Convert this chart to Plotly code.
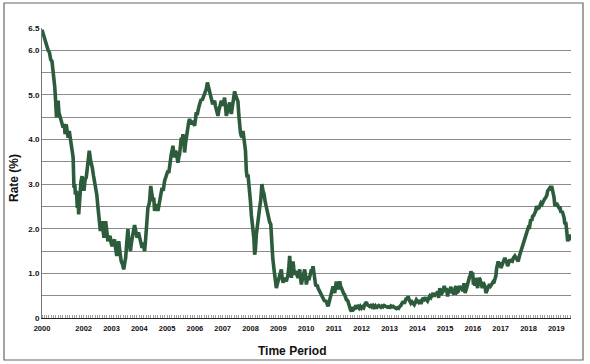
import plotly.graph_objects as go

# Decimal-year positions and rate values (%)
years = [
    2000.50, 2000.55, 2000.60, 2000.66, 2000.72, 2000.77, 2000.81, 2000.86, 2000.90, 2000.94,
    2000.96, 2000.99, 2001.02, 2001.05, 2001.08, 2001.11, 2001.15, 2001.20, 2001.26, 2001.30,
    2001.33, 2001.37, 2001.40, 2001.44, 2001.48, 2001.52, 2001.56, 2001.60, 2001.62, 2001.65,
    2001.68, 2001.70, 2001.74, 2001.77, 2001.80, 2001.82, 2001.85, 2001.87, 2001.90, 2001.94,
    2001.98, 2002.01, 2002.05, 2002.09, 2002.12, 2002.15, 2002.20, 2002.25, 2002.28, 2002.31,
    2002.35, 2002.39, 2002.43, 2002.47, 2002.51, 2002.54, 2002.57, 2002.60, 2002.63, 2002.66,
    2002.70, 2002.73, 2002.76, 2002.79, 2002.83, 2002.87, 2002.91, 2002.95, 2002.98, 2003.02,
    2003.06, 2003.11, 2003.15, 2003.19, 2003.22, 2003.26, 2003.30, 2003.35, 2003.40, 2003.44,
    2003.48, 2003.51, 2003.55, 2003.59, 2003.62, 2003.65, 2003.68, 2003.72, 2003.75, 2003.79,
    2003.83, 2003.88, 2003.92, 2003.97, 2004.01, 2004.05, 2004.10, 2004.13, 2004.16, 2004.19,
    2004.22, 2004.25, 2004.28, 2004.31, 2004.35, 2004.37, 2004.41, 2004.45, 2004.49, 2004.52,
    2004.55, 2004.58, 2004.61, 2004.64, 2004.67, 2004.70, 2004.73, 2004.77, 2004.82, 2004.86,
    2004.91, 2004.96, 2005.03, 2005.06, 2005.09, 2005.12, 2005.15, 2005.18, 2005.21, 2005.24,
    2005.27, 2005.30, 2005.33, 2005.36, 2005.39, 2005.42, 2005.45, 2005.48, 2005.51, 2005.54,
    2005.57, 2005.60, 2005.63, 2005.66, 2005.69, 2005.72, 2005.75, 2005.78, 2005.81, 2005.84,
    2005.87, 2005.90, 2005.93, 2005.96, 2005.99, 2006.02, 2006.05, 2006.08, 2006.11, 2006.14,
    2006.17, 2006.20, 2006.23, 2006.26, 2006.29, 2006.32, 2006.35, 2006.38, 2006.41, 2006.45,
    2006.48, 2006.51, 2006.54, 2006.57, 2006.60, 2006.64, 2006.67, 2006.71, 2006.74, 2006.77,
    2006.80, 2006.83, 2006.86, 2006.89, 2006.92, 2006.95, 2006.98, 2007.01, 2007.04, 2007.07,
    2007.10, 2007.13, 2007.16, 2007.19, 2007.22, 2007.25, 2007.28, 2007.31, 2007.34, 2007.37,
    2007.40, 2007.43, 2007.46, 2007.50, 2007.55, 2007.58, 2007.61, 2007.64, 2007.67, 2007.70,
    2007.73, 2007.76, 2007.79, 2007.82, 2007.85, 2007.88, 2007.91, 2007.94, 2007.97, 2008.00,
    2008.03, 2008.06, 2008.09, 2008.12, 2008.15, 2008.18, 2008.21, 2008.24, 2008.27, 2008.30,
    2008.33, 2008.37, 2008.41, 2008.45, 2008.49, 2008.53, 2008.57, 2008.61, 2008.65, 2008.69,
    2008.73, 2008.75, 2008.77, 2008.80, 2008.84, 2008.88, 2008.93, 2008.96, 2008.99, 2009.02,
    2009.05, 2009.08, 2009.11, 2009.14, 2009.17, 2009.20, 2009.23, 2009.26, 2009.29, 2009.32,
    2009.35, 2009.38, 2009.41, 2009.44, 2009.47, 2009.50, 2009.53, 2009.56, 2009.59, 2009.62,
    2009.65, 2009.68, 2009.71, 2009.74, 2009.77, 2009.80, 2009.83, 2009.86, 2009.89, 2009.92,
    2009.95, 2009.98, 2010.01, 2010.04, 2010.07, 2010.10, 2010.13, 2010.16, 2010.19, 2010.22,
    2010.25, 2010.28, 2010.31, 2010.34, 2010.37, 2010.40, 2010.43, 2010.46, 2010.49, 2010.52,
    2010.55, 2010.58, 2010.61, 2010.64, 2010.67, 2010.70, 2010.73, 2010.76, 2010.79, 2010.82,
    2010.85, 2010.88, 2010.91, 2010.94, 2010.97, 2011.00, 2011.03, 2011.06, 2011.09, 2011.12,
    2011.15, 2011.18, 2011.21, 2011.24, 2011.27, 2011.30, 2011.33, 2011.36, 2011.39, 2011.42,
    2011.45, 2011.48, 2011.51, 2011.54, 2011.57, 2011.60, 2011.63, 2011.66, 2011.69, 2011.72,
    2011.75, 2011.79, 2011.83, 2011.87, 2011.91, 2011.95, 2011.99, 2012.03, 2012.07, 2012.11,
    2012.14, 2012.17, 2012.20, 2012.24, 2012.29, 2012.33, 2012.37, 2012.41, 2012.45, 2012.49,
    2012.53, 2012.57, 2012.61, 2012.65, 2012.69, 2012.73, 2012.77, 2012.81, 2012.85, 2012.89,
    2012.93, 2012.97, 2013.01, 2013.05, 2013.09, 2013.13, 2013.17, 2013.21, 2013.25, 2013.29,
    2013.33, 2013.37, 2013.41, 2013.45, 2013.49, 2013.53, 2013.57, 2013.61, 2013.64, 2013.67,
    2013.70, 2013.73, 2013.77, 2013.81, 2013.85, 2013.89, 2013.93, 2013.97, 2014.01, 2014.05,
    2014.09, 2014.13, 2014.17, 2014.21, 2014.25, 2014.29, 2014.33, 2014.37, 2014.41, 2014.45,
    2014.49, 2014.53, 2014.57, 2014.61, 2014.65, 2014.69, 2014.73, 2014.77, 2014.81, 2014.85,
    2014.89, 2014.93, 2014.97, 2015.01, 2015.05, 2015.09, 2015.13, 2015.17, 2015.21, 2015.25,
    2015.28, 2015.32, 2015.36, 2015.40, 2015.44, 2015.48, 2015.52, 2015.56, 2015.60, 2015.64,
    2015.68, 2015.72, 2015.76, 2015.80, 2015.84, 2015.88, 2015.91, 2015.93, 2015.96, 2015.99,
    2016.02, 2016.05, 2016.07, 2016.10, 2016.13, 2016.17, 2016.20, 2016.23, 2016.26, 2016.30,
    2016.34, 2016.37, 2016.41, 2016.44, 2016.47, 2016.50, 2016.53, 2016.56, 2016.60, 2016.64,
    2016.68, 2016.72, 2016.75, 2016.77, 2016.80, 2016.83, 2016.85, 2016.88, 2016.91, 2016.94,
    2016.97, 2017.01, 2017.05, 2017.09, 2017.12, 2017.15, 2017.18, 2017.22, 2017.25, 2017.29,
    2017.33, 2017.37, 2017.42, 2017.46, 2017.51, 2017.55, 2017.59, 2017.63, 2017.68, 2017.73,
    2017.77, 2017.81, 2017.86, 2017.90, 2017.94, 2017.99, 2018.03, 2018.08, 2018.12, 2018.15,
    2018.19, 2018.23, 2018.26, 2018.29, 2018.33, 2018.38, 2018.42, 2018.45, 2018.49, 2018.53,
    2018.57, 2018.62, 2018.66, 2018.69, 2018.73, 2018.77, 2018.80, 2018.83, 2018.86, 2018.89,
    2018.92, 2018.95, 2018.98, 2019.01, 2019.05, 2019.10, 2019.13, 2019.17, 2019.21, 2019.25,
    2019.28, 2019.31, 2019.34, 2019.37, 2019.39, 2019.41, 2019.44, 2019.46, 2019.50, 2019.53,
]

rates = [
    6.46, 6.35, 6.22, 6.12, 6.00, 5.95, 5.80, 5.75, 5.54, 5.30,
    5.17, 4.87, 4.50, 4.65, 4.87, 4.60, 4.52, 4.42, 4.27, 4.35,
    4.12, 4.34, 4.20, 4.04, 4.19, 4.00, 3.90, 3.75, 3.60, 2.92,
    3.00, 2.77, 2.85, 2.47, 2.55, 2.32, 2.70, 2.92, 3.05, 3.18,
    3.00, 2.85, 3.10, 3.15, 3.30, 3.52, 3.75, 3.52, 3.45, 3.37,
    3.20, 3.07, 2.95, 2.77, 2.50, 2.25, 2.10, 1.95, 2.05, 2.17,
    1.95, 1.80, 2.00, 2.17, 1.95, 1.72, 1.80, 1.84, 1.70, 1.61,
    1.70, 1.76, 1.55, 1.39, 1.55, 1.72, 1.50, 1.27, 1.20, 1.09,
    1.25, 1.35, 1.70, 1.99, 1.75, 1.65, 1.50, 1.70, 1.87, 1.95,
    2.08, 1.85, 1.80, 1.92, 1.80, 1.65, 1.57, 1.69, 1.60, 1.50,
    1.70, 2.02, 2.25, 2.47, 2.55, 2.62, 2.96, 2.80, 2.62, 2.70,
    2.40, 2.55, 2.47, 2.55, 2.40, 2.50, 2.58, 2.75, 2.92, 2.85,
    3.07, 3.15, 3.30, 3.25, 3.45, 3.55, 3.67, 3.75, 3.86, 3.70,
    3.60, 3.75, 3.71, 3.60, 3.48, 3.60, 3.67, 3.85, 4.04, 3.95,
    4.12, 4.00, 3.71, 3.90, 4.04, 4.20, 4.34, 4.40, 4.46, 4.38,
    4.34, 4.42, 4.38, 4.35, 4.31, 4.45, 4.61, 4.55, 4.68, 4.72,
    4.79, 4.85, 4.91, 4.88, 4.94, 4.98, 5.02, 5.08, 5.13, 5.28,
    5.20, 5.09, 5.00, 4.91, 4.85, 4.79, 4.83, 4.87, 4.75, 4.64,
    4.60, 4.53, 4.65, 4.76, 4.80, 4.87, 4.80, 4.76, 4.85, 4.94,
    4.75, 4.53, 4.60, 4.72, 4.78, 4.83, 4.70, 4.57, 4.70, 4.87,
    4.95, 5.08, 5.00, 4.90, 4.85, 4.55, 4.27, 4.15, 4.08, 4.05,
    4.19, 4.05, 3.97, 3.75, 3.30, 3.15, 3.22, 3.05, 2.92, 2.60,
    2.32, 2.15, 2.02, 1.80, 1.42, 1.55, 1.87, 2.05, 2.25, 2.35,
    2.47, 2.65, 3.00, 2.85, 2.77, 2.60, 2.47, 2.35, 2.25, 2.15,
    2.10, 1.80, 1.57, 1.35, 1.12, 0.90, 0.67, 0.75, 0.82, 0.90,
    0.97, 1.02, 1.09, 0.90, 0.79, 0.85, 0.90, 0.86, 0.82, 0.90,
    0.97, 1.15, 1.39, 1.10, 0.90, 1.05, 1.27, 1.10, 0.97, 1.02,
    1.05, 0.95, 0.90, 1.00, 1.09, 0.90, 0.75, 0.85, 0.97, 1.00,
    1.09, 0.95, 0.75, 0.85, 0.94, 0.85, 0.90, 1.00, 1.09, 1.05,
    1.16, 1.00, 0.82, 0.75, 0.71, 0.75, 0.67, 0.63, 0.60, 0.56,
    0.52, 0.50, 0.45, 0.42, 0.37, 0.40, 0.34, 0.30, 0.26, 0.33,
    0.41, 0.50, 0.60, 0.65, 0.71, 0.62, 0.56, 0.70, 0.82, 0.70,
    0.64, 0.75, 0.82, 0.72, 0.67, 0.60, 0.56, 0.54, 0.52, 0.45,
    0.41, 0.40, 0.37, 0.30, 0.21, 0.18, 0.15, 0.20, 0.24, 0.20,
    0.22, 0.28, 0.24, 0.26, 0.22, 0.26, 0.22, 0.25, 0.23, 0.30,
    0.33, 0.36, 0.30, 0.28, 0.26, 0.28, 0.25, 0.28, 0.24, 0.27,
    0.22, 0.26, 0.28, 0.26, 0.24, 0.27, 0.25, 0.28, 0.26, 0.26,
    0.24, 0.25, 0.24, 0.27, 0.25, 0.26, 0.24, 0.23, 0.21, 0.23,
    0.22, 0.26, 0.28, 0.33, 0.37, 0.32, 0.38, 0.45, 0.42, 0.49,
    0.42, 0.37, 0.33, 0.36, 0.34, 0.30, 0.35, 0.41, 0.38, 0.35,
    0.37, 0.32, 0.38, 0.45, 0.42, 0.46, 0.41, 0.38, 0.44, 0.49,
    0.46, 0.53, 0.56, 0.48, 0.55, 0.52, 0.60, 0.45, 0.67, 0.52,
    0.55, 0.60, 0.72, 0.60, 0.67, 0.48, 0.63, 0.60, 0.70, 0.55,
    0.64, 0.52, 0.67, 0.71, 0.58, 0.60, 0.72, 0.65, 0.71, 0.60,
    0.78, 0.56, 0.64, 0.75, 0.86, 0.92, 0.96, 1.05, 0.95, 1.02,
    0.75, 0.85, 0.72, 0.90, 0.82, 0.67, 0.80, 0.90, 0.86, 0.72,
    0.67, 0.80, 0.75, 0.70, 0.56, 0.62, 0.68, 0.71, 0.76, 0.72,
    0.75, 0.80, 0.78, 0.82, 0.85, 0.95, 1.09, 1.15, 1.27, 1.20,
    1.25, 1.12, 1.20, 1.24, 1.30, 1.35, 1.30, 1.25, 1.16, 1.25,
    1.31, 1.28, 1.27, 1.35, 1.39, 1.35, 1.32, 1.27, 1.40, 1.50,
    1.57, 1.65, 1.73, 1.80, 1.88, 2.02, 2.00, 2.21, 2.18, 2.28,
    2.30, 2.36, 2.40, 2.51, 2.45, 2.47, 2.55, 2.58, 2.55, 2.62,
    2.66, 2.70, 2.75, 2.85, 2.88, 2.92, 2.90, 2.96, 2.88, 2.81,
    2.70, 2.51, 2.55, 2.58, 2.52, 2.47, 2.50, 2.36, 2.40, 2.32,
    2.25, 2.10, 2.15, 1.99, 1.85, 1.72, 1.78, 1.87, 1.75, 1.80,
]

x_tick_vals = [2000.5] + list(range(2002, 2020))
x_tick_text = ["2000"] + [str(y) for y in range(2002, 2020)]
y_tick_vals = [0, 1, 2, 3, 4, 5, 6, 6.5]
y_tick_text = ["0", "1.0", "2.0", "3.0", "4.0", "5.0", "6.0", "6.5"]
y_minor_vals = [0.5, 1.5, 2.5, 3.5, 4.5, 5.5]

FONT = "Liberation Sans, Arial, Helvetica, sans-serif"
LINE_COLOR = "#2d5c3c"
GRID = "#8c8c8c"

fig = go.Figure()
fig.add_trace(go.Scatter(
    x=years, y=rates, mode="lines",
    line=dict(color=LINE_COLOR, width=3.6),
    hoverinfo="skip", showlegend=False,
))

# plot area: x 42..571, y 28..318 in a 590x364 canvas
L, R, T, B = 42, 19, 28, 46
W, H = 590 - L - R, 364 - T - B

def px(xp):
    return (xp - L) / W

def py(yp):
    return (364 - B - yp) / H

fig.update_layout(
    width=590, height=364,
    margin=dict(l=L, r=R, t=T, b=B),
    paper_bgcolor="white", plot_bgcolor="white",
    xaxis=dict(
        range=[2000.5, 2019.53],
        tickmode="array", tickvals=x_tick_vals, ticktext=x_tick_text,
        ticks="", showgrid=False, zeroline=False,
        showline=True, linecolor="#222222", linewidth=1,
        ticklabelstandoff=3,
        tickfont=dict(family=FONT, size=7.5, color="#111111", weight="bold"),
        minor=dict(tickmode="linear", tick0=2000.5, dtick=1/12,
                   ticks="inside", ticklen=3, tickcolor="#a0a0a0", tickwidth=1,
                   showgrid=False),
    ),
    yaxis=dict(
        range=[0, 6.5],
        tickmode="array", tickvals=y_tick_vals, ticktext=y_tick_text,
        ticks="", showgrid=True, gridcolor=GRID, gridwidth=1,
        zeroline=False, showline=True, linecolor="#777777", linewidth=1,
        tickfont=dict(family=FONT, size=8, color="#111111", weight="bold"),
        minor=dict(tickmode="array", tickvals=y_minor_vals, showgrid=True,
                   gridcolor=GRID, gridwidth=1, ticks=""),
    ),
    annotations=[
        dict(text="Rate (%)", xref="paper", yref="paper", x=px(14), y=py(178),
             xanchor="center", yanchor="middle", textangle=-90, showarrow=False,
             font=dict(family=FONT, size=12, color="#111111", weight="bold")),
        dict(text="Time Period", xref="paper", yref="paper", x=px(292), y=py(351),
             xanchor="center", yanchor="middle", showarrow=False,
             font=dict(family=FONT, size=12, color="#111111", weight="bold")),
    ],
    shapes=[
        dict(type="rect", xref="paper", yref="paper",
             x0=px(4), x1=px(583), y0=py(360), y1=py(3),
             line=dict(color="#666666", width=1.2), fillcolor="rgba(0,0,0,0)",
             layer="below"),
    ],
)

fig.write_html(
    "out.html",
    config={"displayModeBar": False, "staticPlot": True},
    post_script="document.body.style.margin='0';document.body.style.overflow='hidden';",
)
